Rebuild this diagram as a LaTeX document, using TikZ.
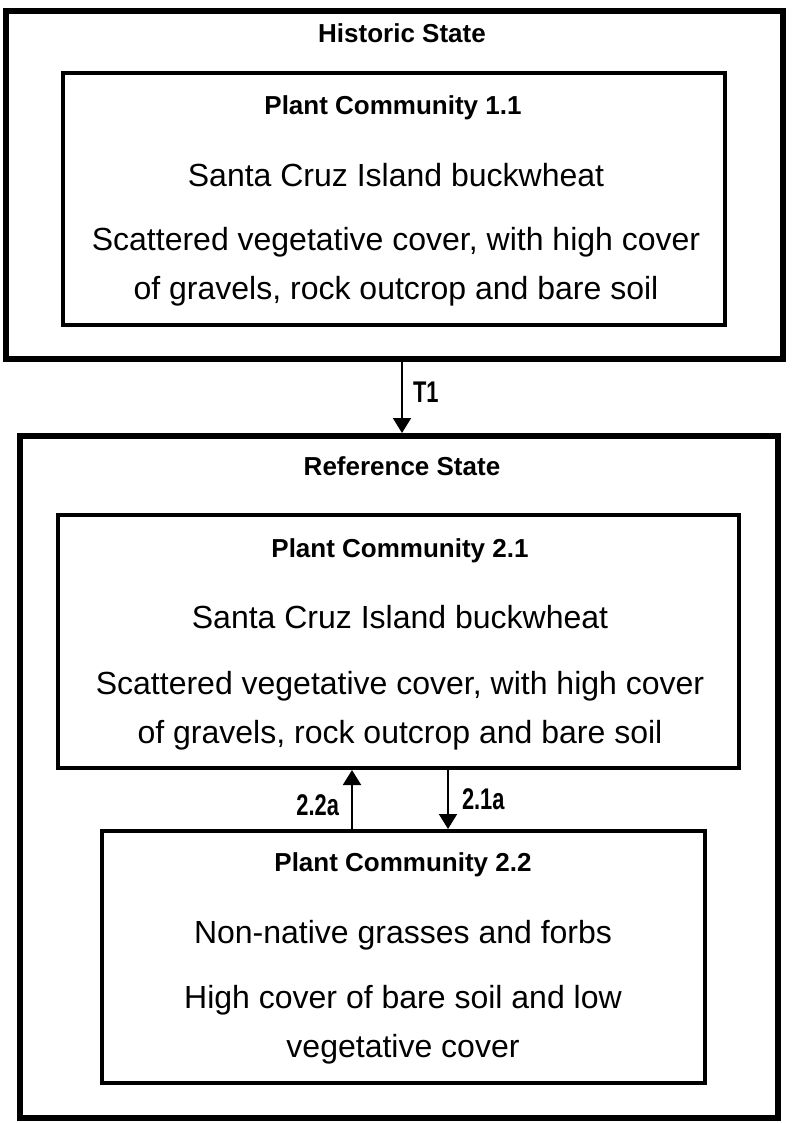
\documentclass[tikz,border=0pt]{standalone}
\usepackage{fontspec}
\setmainfont{Liberation Sans}
\usetikzlibrary{arrows.meta}
\tikzset{
  statebox/.style={draw=black, line width=6pt, minimum width=#1, inner sep=0pt},
  commbox/.style={draw=black, line width=4pt, inner sep=0pt},
  titletext/.style={font=\fontsize{26}{30}\selectfont\bfseries, inner sep=0pt},
  bodytext/.style={font=\fontsize{32}{49}\selectfont, align=center, inner sep=0pt},
  lbltext/.style={font=\fontsize{23}{26}\selectfont\bfseries, inner sep=0pt},
  trans/.style={line width=2pt, -{Triangle[width=18pt,length=15pt]}},
}
\newcommand{\tallbox}[1]{\scalebox{0.95}[1.3]{#1}}
\begin{document}
\begin{tikzpicture}[x=1pt,y=-1pt]
\useasboundingbox (0,0) rectangle (800,1123);
% state boxes
\node[statebox=777pt, minimum height=348pt] (hist) at (394.5,185) {};
\node[statebox=758pt, minimum height=682pt] (ref) at (399,777) {};
% community boxes
\node[commbox, minimum width=662pt, minimum height=252pt] (pc11) at (394,199) {};
\node[commbox, minimum width=681pt, minimum height=253pt] (pc21) at (398.5,641.5) {};
\node[commbox, minimum width=603pt, minimum height=252pt] (pc22) at (403.5,957) {};
% texts
\node[titletext] (histT) at (402,33) {Historic State};
\node[titletext] (pc11T) at (393,108) {Plant Community 1.1};
\node[bodytext] (pc11a) at (396,175) {Santa Cruz Island buckwheat};
\node[bodytext] (pc11b) at (396,267) {Scattered vegetative cover, with high cover\\of gravels, rock outcrop and bare soil};
\node[titletext] (refT) at (402,466) {Reference State};
\node[titletext] (pc21T) at (400,551) {Plant Community 2.1};
\node[bodytext] (pc21a) at (400,617) {Santa Cruz Island buckwheat};
\node[bodytext] (pc21b) at (400,711) {Scattered vegetative cover, with high cover\\of gravels, rock outcrop and bare soil};
\node[titletext] (pc22T) at (403,865) {Plant Community 2.2};
\node[bodytext] (pc22a) at (403,935) {Non-native grasses and forbs};
\node[bodytext] (pc22b) at (403,1025) {High cover of bare soil and low\\vegetative cover};
% connectors
\coordinate (xT1) at (402,0);
\coordinate (x22) at (352,0);
\coordinate (x21) at (448,0);
\draw[trans] (xT1 |- hist.south) -- (xT1 |- ref.north) node[lbltext, pos=0.43, right=10pt] (lT1) {\tallbox{T1}};
\draw[trans] (x22 |- pc22.north) -- (x22 |- pc21.south) node[lbltext, pos=0.4, left=12pt] (l22) {\tallbox{2.2a}};
\draw[trans] (x21 |- pc21.south) -- (x21 |- pc22.north) node[lbltext, pos=0.5, right=13pt] (l21) {\tallbox{2.1a}};
\end{tikzpicture}
\end{document}
